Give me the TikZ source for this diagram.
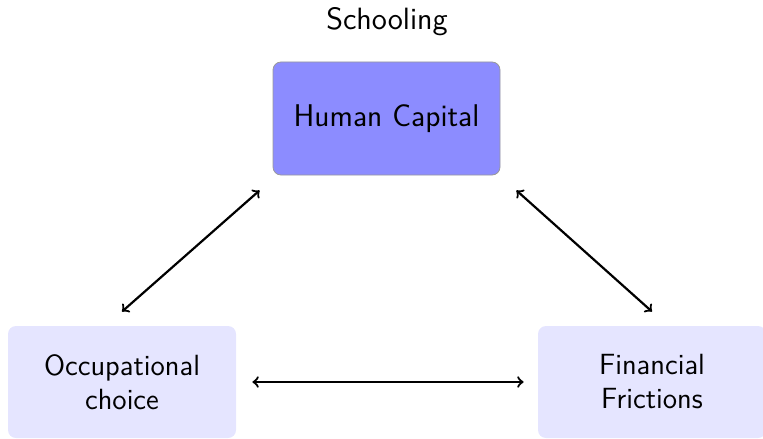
\documentclass[tikz,border=0pt]{standalone}
\usepackage{fontspec}
\begin{document}
\begin{tikzpicture}[x=0.5pt,y=-0.5pt,
  every node/.style={font=\sffamily},
  topbox/.style={draw=gray!80, fill=blue!45, rounded corners=4pt, minimum width=113.5pt, minimum height=56.5pt, inner sep=0pt, font=\sffamily\fontsize{15.7}{18.8}\selectfont},
  lowbox/.style={fill=blue!10, rounded corners=4pt, minimum width=114pt, minimum height=56pt, inner sep=0pt, align=center, font=\sffamily\fontsize{14.6}{17}\selectfont},
  titletext/.style={font=\sffamily\fontsize{15.4}{18.5}\selectfont},
  link/.style={<->, line width=1.1pt}]
\useasboundingbox (0,0) rectangle (763,438);
\node[titletext] (school) at (387,22) {Schooling};
\node[topbox] (hc) at (386.5,118.5) {Human Capital};
\node[lowbox] (occ) at (122,382) {Occupational\\choice};
\node[lowbox] (fin) at (652,382) {Financial\\Frictions};
\draw[link] ([yshift=7pt]occ.north) -- ([xshift=-6.5pt,yshift=-7.5pt]hc.south west);
\draw[link] ([xshift=8pt,yshift=-7.5pt]hc.south east) -- ([yshift=7pt]fin.north);
\draw[link] ([xshift=8pt]occ.east) -- ([xshift=-7pt]fin.west);
\end{tikzpicture}
\end{document}
